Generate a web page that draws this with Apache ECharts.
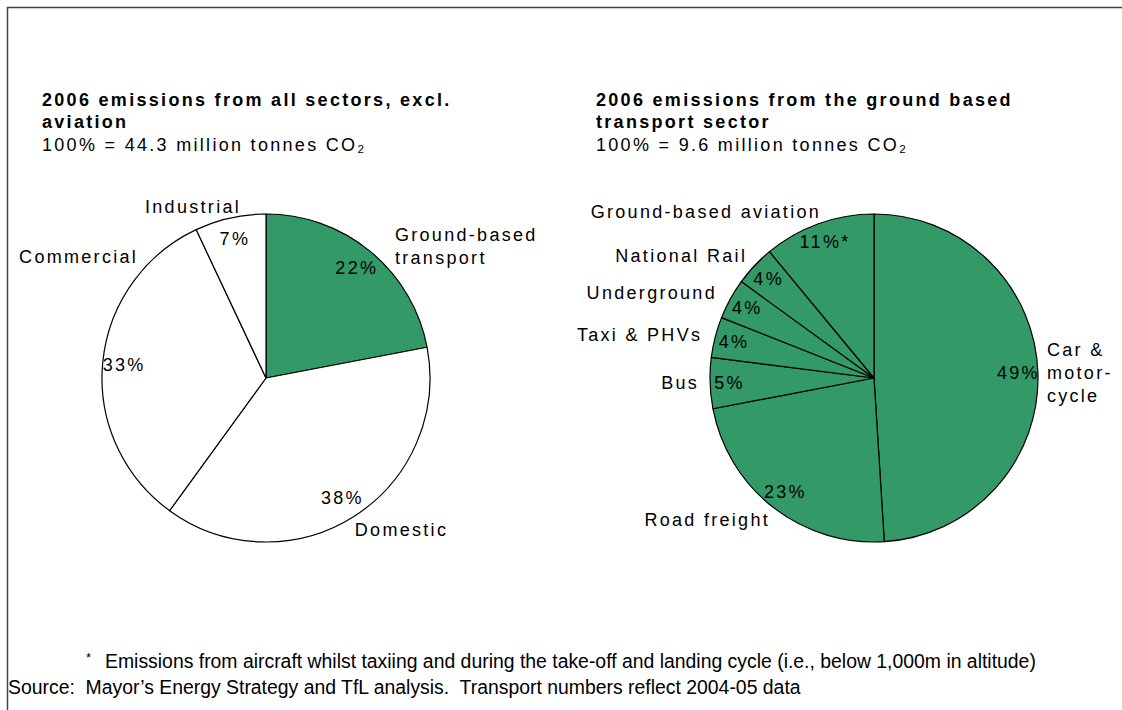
<!DOCTYPE html>
<html>
<head>
<meta charset="utf-8">
<script src="https://cdn.jsdelivr.net/npm/echarts@6/dist/echarts.min.js"></script>
<style>
  html, body { margin: 0; padding: 0; background: #ffffff; }
  #chart { width: 1122px; height: 710px; }
  /* wide-tracked text as in the printed report; footnotes stay tight */
  #chart svg text { letter-spacing: 2.3px; white-space: pre; }
  #chart svg text[style*="Arial"] { letter-spacing: 0; }
</style>
</head>
<body>
<div id="chart"></div>
<script>
// Shares of London's 2006 CO2 emissions (percent of each total)
const sectorNames = ['Ground-based transport', 'Domestic', 'Commercial', 'Industrial'];
const sectorShares = [22, 38, 33, 7];
const sectorLabels = ['Ground-based\ntransport', 'Domestic', 'Commercial', 'Industrial'];
const sectorNotes = ['', '', '', ''];

const transportNames = ['Car & motorcycle', 'Road freight', 'Bus', 'Taxi & PHVs', 'Underground', 'National Rail', 'Ground-based aviation'];
const transportShares = [49, 23, 5, 4, 4, 4, 11];
const transportLabels = ['Car &\nmotor-\ncycle', 'Road freight', 'Bus', 'Taxi & PHVs', 'Underground', 'National Rail', 'Ground-based aviation'];
const transportNotes = ['', '', '', '', '', '', '*'];

const sectorTitle = '2006 emissions from all sectors, excl.\naviation';
const sectorTotal = '100% = 44.3 million tonnes CO\u2082';
const transportTitle = '2006 emissions from the ground based\ntransport sector';
const transportTotal = '100% = 9.6 million tonnes CO\u2082';
const footnoteText = 'Emissions from aircraft whilst taxiing and during the take-off and landing cycle (i.e., below 1,000m in altitude)';
const sourceText = 'Source:  Mayor\u2019s Energy Strategy and TfL analysis.  Transport numbers reflect 2004-05 data';

// ---- styling / layout ----
const GREEN = '#339966';
const WHITE = '#ffffff';
const FONT = 'Liberation Sans, sans-serif';
const NOTE_FONT = 'Arial, Liberation Sans, sans-serif';
const PIE_R = 164;
const sectorColors = [GREEN, WHITE, WHITE, WHITE];
const transportColors = transportNames.map(() => GREEN);

// category name placement around each pie: [angle clockwise from 12 o'clock, distance px, align]
const sectorNameSpots = [[44.5, 184, 'left'], [149.7, 176, 'left'], [313.4, 176, 'right'], [336.9, 186, 'center']];
const transportNameSpots = [[88.3, 173, 'left'], [216.2, 176, 'right'], [268.4, 175, 'right'], [284.0, 177, 'right'],
  [298.4, 178.5, 'right'], [313.9, 176, 'right'], [342.3, 174, 'right']];

function pieSeries(names, shares, colors, labels, notes, center, ring, spots) {
  const data = names.map((n, i) => ({ name: n, value: shares[i], itemStyle: { color: colors[i] } }));
  const slices = {
    type: 'pie',
    center: center,
    radius: PIE_R,
    startAngle: 90,
    clockwise: true,
    silent: true,
    avoidLabelOverlap: false,
    data: data,
    itemStyle: { borderColor: '#000', borderWidth: 1.2 },
    label: {
      show: true,
      position: 'outside',
      formatter: (p) => labels[p.dataIndex],
      fontFamily: FONT,
      fontSize: 18,
      lineHeight: 23,
      color: '#000'
    },
    labelLine: { show: false },
    labelLayout: function (p) {
      const s = spots[p.dataIndex];
      const a = s[0] * Math.PI / 180;
      return {
        x: center[0] + s[1] * Math.sin(a),
        y: center[1] - s[1] * Math.cos(a),
        align: s[2],
        verticalAlign: 'middle'
      };
    },
    emphasis: { disabled: true }
  };
  // value labels sit in a thin ring near the rim
  const values = {
    type: 'pie',
    center: center,
    radius: ring,
    startAngle: 90,
    clockwise: true,
    silent: true,
    avoidLabelOverlap: false,
    data: names.map((n, i) => ({ name: n, value: shares[i] })),
    itemStyle: { color: 'rgba(0,0,0,0)', borderWidth: 0 },
    label: {
      show: true,
      position: 'inside',
      formatter: (p) => p.value + '%' + notes[p.dataIndex],
      fontFamily: FONT,
      fontSize: 18,
      color: '#000'
    },
    labelLine: { show: false },
    emphasis: { disabled: true }
  };
  return [slices, values];
}

const titleText = { fontFamily: FONT, fontSize: 18, fontWeight: 'bold', color: '#000', lineHeight: 22 };
const subText = { fontFamily: FONT, fontSize: 18, color: '#000', lineHeight: 22 };

const chart = echarts.init(document.getElementById('chart'), null, { renderer: 'svg' });
chart.setOption({
  animation: false,
  backgroundColor: '#ffffff',
  title: [
    { left: 42, top: 89, padding: 0, itemGap: 1, text: sectorTitle, subtext: sectorTotal, textStyle: titleText, subtextStyle: subText },
    { left: 596, top: 89, padding: 0, itemGap: 1, text: transportTitle, subtext: transportTotal, textStyle: titleText, subtextStyle: subText }
  ],
  series: [
    ...pieSeries(sectorNames, sectorShares, sectorColors, sectorLabels, sectorNotes, [266, 378], [115, PIE_R], sectorNameSpots),
    ...pieSeries(transportNames, transportShares, transportColors, transportLabels, transportNotes, [874, 378], [119, PIE_R], transportNameSpots)
  ],
  graphic: [
    { type: 'polyline', silent: true, shape: { points: [[7.5, 712], [7.5, 7.5], [1124, 7.5]] }, style: { stroke: '#444', lineWidth: 1.5, fill: null } },
    { type: 'text', x: 86, y: 657, silent: true, style: { text: '*', fontFamily: NOTE_FONT, fontSize: 13, fill: '#000', verticalAlign: 'middle' } },
    { type: 'text', x: 105, y: 661, silent: true, style: { text: footnoteText, fontFamily: NOTE_FONT, fontSize: 19.4, fill: '#000', verticalAlign: 'middle' } },
    { type: 'text', x: 8, y: 687, silent: true, style: { text: sourceText, fontFamily: NOTE_FONT, fontSize: 19.4, fill: '#000', verticalAlign: 'middle' } }
  ]
});
</script>
</body>
</html>
